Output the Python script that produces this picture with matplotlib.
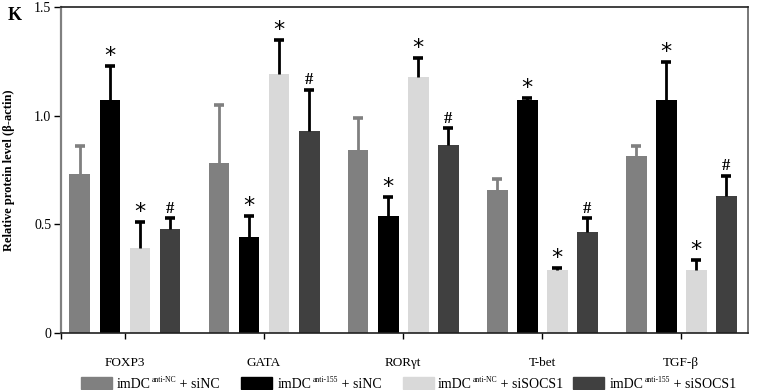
import matplotlib
matplotlib.use("Agg")
import matplotlib.pyplot as plt
from matplotlib.patches import Rectangle
import numpy as np

plt.rcParams['font.family'] = ['Liberation Serif', 'DejaVu Serif']

categories = ["FOXP3", "GATA", "ROR\u03b3t", "T-bet", "TGF-\u03b2"]
series_base = ["imDC", "imDC", "imDC", "imDC"]
series_sup = ["anti-NC", "anti-155", "anti-NC", "anti-155"]
series_tail = [" + siNC", " + siNC", " + siSOCS1", " + siSOCS1"]
means = [
    [0.73, 0.78, 0.84, 0.66, 0.815],   # anti-NC + siNC
    [1.07, 0.44, 0.54, 1.07, 1.07],    # anti-155 + siNC
    [0.39, 1.19, 1.18, 0.29, 0.29],    # anti-NC + siSOCS1
    [0.48, 0.93, 0.865, 0.465, 0.63],  # anti-155 + siSOCS1
]
errors = [
    [0.13, 0.27, 0.15, 0.05, 0.045],
    [0.16, 0.10, 0.085, 0.01, 0.175],
    [0.12, 0.16, 0.085, 0.008, 0.045],
    [0.05, 0.19, 0.078, 0.063, 0.094],
]
marks = [
    ["", "", "", "", ""],
    ["*", "*", "*", "*", "*"],
    ["*", "*", "*", "*", "*"],
    ["#", "#", "#", "#", "#"],
]
yticks = [0, 0.5, 1.0, 1.5]
ytick_labels = ["0", "0.5", "1.0", "1.5"]

colors = ["#808080", "#000000", "#d9d9d9", "#404040"]
err_colors = ["#808080", "#000000", "#000000", "#000000"]

W, H = 757, 390
fig = plt.figure(figsize=(W / 100, H / 100), dpi=100)
ax = fig.add_axes([61 / W, 1 - 333 / H, (748 - 61) / W, (333 - 7) / H])

x = np.arange(len(categories))
bw = 0.15
step = 0.216
cap_half = 0.036
for i in range(4):
    xs = x + (i - 1.5) * step
    ax.bar(xs, means[i], width=bw, color=colors[i], zorder=2)
    tops = np.array(means[i]) + np.array(errors[i])
    ax.vlines(xs, means[i], tops, colors=err_colors[i], linewidth=2.0, zorder=3)
    ax.hlines(tops, xs - cap_half, xs + cap_half, colors=err_colors[i], linewidth=2.6, zorder=3)
    for xx, t, mk in zip(xs, tops, marks[i]):
        if mk == "*":
            ax.text(xx, t + 0.0, "*", ha="center", va="bottom", fontsize=16,
                    family="DejaVu Sans", zorder=4)
        elif mk == "#":
            ax.text(xx, t + 0.006, "#", ha="center", va="bottom", fontsize=12,
                    fontweight="bold", zorder=4)

ax.set_xlim(-0.46, 4.48)
ax.set_ylim(0, 1.5)
ax.set_yticks(yticks)
ax.set_yticklabels(ytick_labels, fontsize=10)
ax.set_xticks(np.concatenate([[-0.46], x]))
ax.set_xticklabels([""] + categories, fontsize=9.5)
ax.tick_params(axis="x", length=4, width=1, pad=13)
ax.tick_params(axis="y", length=5, width=1, pad=2)
ax.spines["left"].set_color("#808080")
ax.spines["left"].set_linewidth(1.6)
ax.spines["bottom"].set_color("#202020")
ax.spines["bottom"].set_linewidth(1.2)
ax.spines["top"].set_color("#202020")
ax.spines["top"].set_linewidth(1.2)
ax.spines["right"].set_color("#606060")
ax.spines["right"].set_linewidth(1.2)
ax.set_ylabel("Relative protein level (\u03b2-actin)", fontsize=9, fontweight="bold")
ax.yaxis.set_label_coords(-(61 - 15) / (748 - 61), 0.5)

fig.text(8 / W, 1 - 16 / H, "K", fontsize=13, fontweight="bold", va="center", ha="left")

# legend (manual)
patch_x = [81, 241, 403, 573]
text_x = [117, 278, 438, 610]
ly = 383
fig.canvas.draw()
renderer = fig.canvas.get_renderer()
for i in range(4):
    fig.add_artist(Rectangle((patch_x[i] / W, 1 - (ly + 6) / H), 31 / W, 12 / H,
                             transform=fig.transFigure, color=colors[i]))
    t1 = fig.text(text_x[i] / W, 1 - (ly + 5) / H, series_base[i], fontsize=10,
                  va="baseline", ha="left")
    bb = t1.get_window_extent(renderer)
    t2 = fig.text(bb.x1 / W + 0.5 / W, 1 - (ly - 1) / H, series_sup[i], fontsize=5.5,
                  va="baseline", ha="left")
    bb2 = t2.get_window_extent(renderer)
    fig.text(bb2.x1 / W, 1 - (ly + 5) / H, series_tail[i], fontsize=10,
             va="baseline", ha="left")

fig.savefig("out.png", dpi=100)
